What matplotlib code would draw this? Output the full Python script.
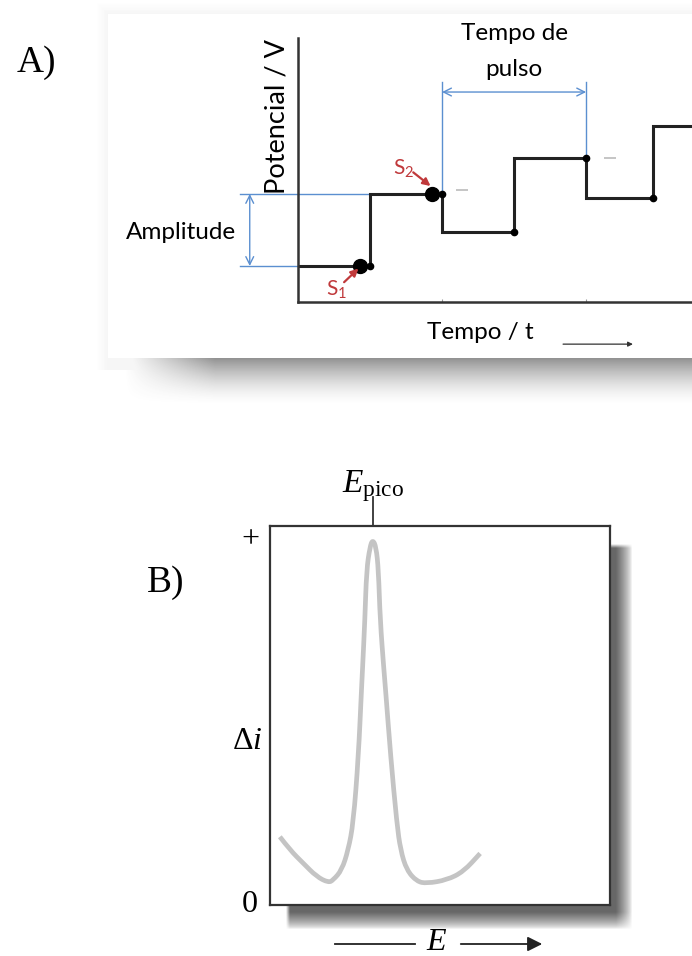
import numpy as np
import matplotlib
matplotlib.use("Agg")
import matplotlib.pyplot as plt
from matplotlib.patches import Rectangle, PathPatch
from matplotlib.path import Path

plt.rcParams['mathtext.fontset'] = 'custom'
plt.rcParams['mathtext.rm'] = 'Liberation Serif'
plt.rcParams['mathtext.it'] = 'Liberation Serif:italic'
plt.rcParams['mathtext.sf'] = 'Lato'

# ---- panel A data: differential pulse staircase ----
step_edges = [0.0, 1.0, 2.0, 3.0, 4.0, 4.93, 5.47]
step_levels = [1.0, 3.0, 1.95, 4.0, 2.9, 4.9]
big_dot_t = [0.86, 1.86]
big_dot_v = [1.0, 3.0]
dash_t = [2.28, 4.33]
dash_v = [3.1, 4.0]

# ---- panel B data: differential pulse voltammogram ----
curve_E = [2.9, 5.9, 9.8, 13.7, 17.2, 18.6, 21.1, 23.0, 24.5, 26.0, 26.9, 27.2,
           27.9, 28.4, 29.4, 30.2, 31.2, 31.9, 32.4, 33.5, 34.0, 35.5, 37.3, 38.4,
           40.2, 43.2, 46.1, 52.0, 56.9, 61.8]
curve_di = [18.0, 14.5, 11.0, 7.5, 5.9, 6.6, 9.2, 14.5, 21.6, 39.1, 56.7, 62.0,
            75.2, 88.4, 94.5, 96.4, 94.5, 88.4, 75.2, 62.0, 56.7, 39.1, 21.6, 14.5,
            9.2, 6.2, 5.7, 6.6, 8.8, 13.6]

W, H = 692, 956
blue = '#5b8fd0'
red = '#c0393b'
sans = 'Lato'
serif = 'Liberation Serif'

fig = plt.figure(figsize=(W / 100, H / 100), dpi=100)
fig.patch.set_facecolor('white')

# background layer in pixel units (boxes and shadows)
bg = fig.add_axes([0, 0, 1, 1], zorder=0)
bg.set_xlim(0, W)
bg.set_ylim(H, 0)
bg.axis('off')

X, Y = np.meshgrid(np.arange(W) + 0.5, np.arange(H) + 0.5)

# shadow under panel A
aA = np.clip((Y - 350) / 8, 0, 1) * np.clip((405 - Y) / 47, 0, 1) ** 1.6 * np.clip((X - 125) / 90, 0, 1)
# faint glow round panel A
glow = np.clip(1 - np.maximum(np.maximum(108 - X, 14 - Y), 0) / 12, 0, 1) * (X > 96) * (Y > 2) * (Y < 370) * 0.05
aA = np.maximum(aA * 0.62, glow)
# shadow of panel B
aB = (np.clip((632 - X) / 16, 0, 1) ** 0.7 * np.clip((X - 286) / 4, 0, 1) *
      np.clip((929 - Y) / 17, 0, 1) ** 0.7 * np.clip((Y - 544) / 4, 0, 1)) * 0.85
alpha = np.maximum(aA, aB)
rgba = np.zeros((H, W, 4))
rgba[..., :3] = 0.3
rgba[..., 3] = alpha
bg.imshow(rgba, extent=(0, W, H, 0), zorder=1, interpolation='bilinear')

bg.add_patch(Rectangle((108, 14), 620, 344, facecolor='white', edgecolor='none', zorder=2))

bg.text(36, 63, 'A)', fontsize=27, family=serif, ha='center', va='center', zorder=3)
bg.text(166, 583, 'B)', fontsize=27, family=serif, ha='center', va='center', zorder=3)

# bottom arrow of panel B
bg.plot([335, 415], [944, 944], color='#222222', lw=1.3, zorder=3)
bg.text(437, 942, r'$E$', fontsize=23, ha='center', va='center', zorder=3)
bg.annotate('', xy=(545, 944), xytext=(458, 944), zorder=3,
            arrowprops=dict(arrowstyle='-|>', color='#222222', lw=1.3, mutation_scale=22))

# ---------------- panel A ----------------
axA = fig.add_axes([298 / W, (H - 302) / H, 394 / W, 264 / H], zorder=2)
axA.patch.set_alpha(0)
axA.set_xlim(0, 5.47)
axA.set_ylim(0, 7.33)
for s in ['top', 'right']:
    axA.spines[s].set_visible(False)
for s in ['left', 'bottom']:
    axA.spines[s].set_color('#333333')
    axA.spines[s].set_linewidth(1.8)
axA.set_xticks([2, 4])
axA.set_xticklabels([])
axA.set_yticks([])
axA.tick_params(axis='x', length=2, color='#999999', direction='in')

# blue guide lines
axA.plot([-0.8, step_edges[1]], [step_levels[1]] * 2, color=blue, lw=1, clip_on=False)
axA.plot([-0.8, 0], [step_levels[0]] * 2, color=blue, lw=1, clip_on=False)
axA.plot([step_edges[2]] * 2, [step_levels[2], 6.1], color=blue, lw=1)
axA.plot([step_edges[4]] * 2, [step_levels[4], 6.1], color=blue, lw=1)
axA.annotate('', xy=(-0.67, step_levels[0]), xytext=(-0.67, step_levels[1]), annotation_clip=False,
             arrowprops=dict(arrowstyle='<->', color=blue, lw=1, mutation_scale=14, shrinkA=0, shrinkB=0))
axA.annotate('', xy=(step_edges[2], 5.83), xytext=(step_edges[4], 5.83),
             arrowprops=dict(arrowstyle='<->', color=blue, lw=1, mutation_scale=14, shrinkA=0, shrinkB=0))

# staircase
axA.step(step_edges, step_levels + [step_levels[-1]], where='post', color='#222222', lw=2.2,
         solid_joinstyle='miter')
axA.plot(step_edges[1:6], step_levels[:5], 'o', color='black', ms=4.5, clip_on=False)
axA.plot(big_dot_t, big_dot_v, 'o', color='black', ms=10)
axA.plot(dash_t, dash_v, '_', color='#bbbbbb', ms=8, mew=1.2)

# S1 / S2 labels
axA.text(0.54, 0.36, r'$\mathsf{S}_\mathsf{1}$', color=red, fontsize=15, ha='center', va='center')
axA.annotate('', xy=(0.84, 0.93), xytext=(0.64, 0.55),
             arrowprops=dict(arrowstyle='-|>', color=red, lw=1.6, mutation_scale=11, shrinkA=0, shrinkB=0))
axA.text(1.47, 3.72, r'$\mathsf{S}_\mathsf{2}$', color=red, fontsize=15, ha='center', va='center')
axA.annotate('', xy=(1.84, 3.22), xytext=(1.6, 3.6),
             arrowprops=dict(arrowstyle='-|>', color=red, lw=1.6, mutation_scale=11, shrinkA=0, shrinkB=0))

axA.text(-1.62, 1.94, 'Amplitude', fontsize=17.5, family=sans, ha='center', va='center', clip_on=False)
axA.text(-0.29, 5.14, 'Potencial / V', fontsize=19.5, family=sans, rotation=90, ha='center', va='center',
         clip_on=False)
axA.text(3.0, 7.45, 'Tempo de', fontsize=17.5, family=sans, ha='center', va='center', clip_on=False)
axA.text(3.0, 6.45, 'pulso', fontsize=17.5, family=sans, ha='center', va='center')
axA.text(2.53, -0.86, 'Tempo / t', fontsize=17.5, family=sans, ha='center', va='center', clip_on=False)
axA.annotate('', xy=(4.65, -1.17), xytext=(3.68, -1.17), annotation_clip=False,
             arrowprops=dict(arrowstyle='-|>', color='#333333', lw=0.9, mutation_scale=7, shrinkA=0, shrinkB=0))

# ---------------- panel B ----------------
axB = fig.add_axes([270 / W, (H - 905) / H, 340 / W, 379 / H], zorder=2)
axB.set_facecolor('white')
axB.set_xlim(0, 100)
axB.set_ylim(0, 100)
for s in axB.spines.values():
    s.set_color('#333333')
    s.set_linewidth(1.6)
axB.set_xticks([])
axB.set_yticks([])

# smooth quadratic path through the read points (points act as control vertices)
pts = np.column_stack([curve_E, curve_di])
verts = [pts[0]]
codes = [Path.MOVETO]
for i in range(1, len(pts) - 1):
    mid = (pts[i] + pts[i + 1]) / 2
    verts += [pts[i], mid]
    codes += [Path.CURVE3, Path.CURVE3]
verts.append(pts[-1])
codes.append(Path.LINETO)
axB.add_patch(PathPatch(Path(verts, codes), facecolor='none', edgecolor='#c4c4c4', lw=3.4,
                        capstyle='butt', joinstyle='round'))

peak = int(np.argmax(curve_di))
axB.plot([curve_E[peak]] * 2, [100, 107.7], color='#333333', lw=1.3, clip_on=False)
axB.text(curve_E[peak], 110.5, r'$E_{\mathrm{pico}}$', fontsize=24, ha='center', va='center')
axB.text(-5.9, curve_di[peak], '+', fontsize=23, family=serif, ha='center', va='center')
axB.text(-6.8, 43.5, r'$\Delta i$', fontsize=23, ha='center', va='center')
axB.text(-5.9, 0, '0', fontsize=23, family=serif, ha='center', va='center')

fig.savefig('out.png', dpi=100)
